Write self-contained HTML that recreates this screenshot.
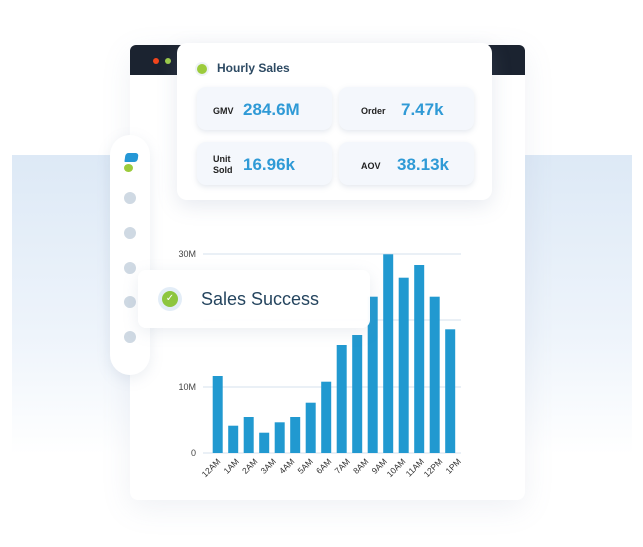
<!DOCTYPE html>
<html><head><meta charset="utf-8"><style>
html,body{margin:0;padding:0;width:643px;height:547px;background:#fff;overflow:hidden;font-family:"Liberation Sans",sans-serif;}
.abs{position:absolute}
.band{left:12px;top:155px;width:620px;height:300px;background:linear-gradient(#dde9f6,#eef4fb 60%,#fff);}
.outer{left:130px;top:45px;width:395px;height:455px;background:#fff;border-radius:8px;box-shadow:0 8px 30px rgba(120,140,170,.12);}
.bar{left:130px;top:45px;width:395px;height:30px;background:#1b2330;border-radius:6px 6px 0 0;}
.card{left:177px;top:43px;width:315px;height:157px;background:#fff;border-radius:10px;box-shadow:0 6px 20px rgba(120,140,170,.18);}
.tile{width:135px;height:43px;background:#f4f7fc;border-radius:9px;box-shadow:0 2px 6px rgba(120,140,170,.2);}
.lab{position:absolute;font-size:9px;font-weight:bold;color:#222;line-height:11px}
.val{position:absolute;font-size:17px;color:#2f9ad6;font-weight:bold}
.side{left:110px;top:135px;width:40px;height:240px;background:#fff;border-radius:20px;box-shadow:0 4px 14px rgba(120,140,170,.15);}
.dot{position:absolute;left:14px;width:12px;height:12px;border-radius:50%;background:#cfd9e3}
.succ{left:138px;top:270px;width:232px;height:58px;background:rgba(255,255,255,.97);border-radius:8px;box-shadow:0 4px 16px rgba(120,140,170,.15);}
</style></head><body>
<div class="abs band"></div>
<div class="abs outer"></div>
<div class="abs bar"></div>
<div class="abs" style="left:153px;top:58px;width:6px;height:6px;border-radius:50%;background:#f2451c"></div>
<div class="abs" style="left:165px;top:58px;width:6px;height:6px;border-radius:50%;background:#9ccb4a"></div>
<div class="abs card">
  <div class="abs" style="left:20px;top:21px;width:10px;height:10px;border-radius:50%;background:#9ccb3c;box-shadow:0 0 0 2px #eef3f6"></div>
  <div class="abs" style="left:40px;top:18px;font-size:12px;font-weight:bold;color:#2d4a63">Hourly Sales</div>
  <div class="abs tile" style="left:20px;top:44px"><div class="lab" style="left:16px;top:19px">GMV</div><div class="val" style="left:46px;top:13px">284.6M</div></div>
  <div class="abs tile" style="left:162px;top:44px"><div class="lab" style="left:22px;top:19px">Order</div><div class="val" style="left:62px;top:13px">7.47k</div></div>
  <div class="abs tile" style="left:20px;top:99px"><div class="lab" style="left:16px;top:12px">Unit<br>Sold</div><div class="val" style="left:46px;top:13px">16.96k</div></div>
  <div class="abs tile" style="left:162px;top:99px"><div class="lab" style="left:22px;top:19px">AOV</div><div class="val" style="left:58px;top:13px">38.13k</div></div>
</div>
<div class="abs side">
  <div class="abs" style="left:15px;top:18px;width:13px;height:9px;background:#2597d6;border-radius:3px 3px 3px 1px;transform:skewX(-8deg)"></div>
  <div class="abs" style="left:14px;top:29px;width:9px;height:8px;background:#9ccb3c;border-radius:50%"></div>
  <div class="dot" style="top:57px"></div><div class="dot" style="top:92px"></div><div class="dot" style="top:127px"></div><div class="dot" style="top:161px"></div><div class="dot" style="top:196px"></div>
</div>
<svg class="abs" style="left:0;top:0" width="643" height="547">
  <g stroke="#d6e2ee" stroke-width="1">
    <line x1="203" y1="254" x2="461" y2="254"/><line x1="203" y1="320" x2="461" y2="320"/>
    <line x1="203" y1="387" x2="461" y2="387"/><line x1="203" y1="453" x2="461" y2="453"/>
  </g>
  <g font-family="Liberation Sans,sans-serif" font-size="9" fill="#444" text-anchor="end">
    <text x="196" y="257">30M</text><text x="196" y="390">10M</text><text x="196" y="456">0</text>
  </g>
  <g fill="#2199d0">
    <rect x="212.7" y="376" width="10" height="77"/>
    <rect x="228.2" y="425.7" width="10" height="27.3"/>
    <rect x="243.7" y="417" width="10" height="36"/>
    <rect x="259.2" y="432.7" width="10" height="20.3"/>
    <rect x="274.7" y="422.3" width="10" height="30.7"/>
    <rect x="290.2" y="417" width="10" height="36"/>
    <rect x="305.7" y="402.7" width="10" height="50.3"/>
    <rect x="321.2" y="381.7" width="10" height="71.3"/>
    <rect x="336.7" y="345" width="10" height="108"/>
    <rect x="352.2" y="335" width="10" height="118"/>
    <rect x="367.7" y="296.7" width="10" height="156.3"/>
    <rect x="383.2" y="254.3" width="10" height="198.7"/>
    <rect x="398.7" y="277.7" width="10" height="175.3"/>
    <rect x="414.2" y="265" width="10" height="188"/>
    <rect x="429.7" y="296.7" width="10" height="156.3"/>
    <rect x="445.2" y="329.3" width="10" height="123.7"/>
  </g>
  <g font-family="Liberation Sans,sans-serif" font-size="8.5" fill="#333" text-anchor="end">
    <text transform="translate(221,462) rotate(-45)">12AM</text>
    <text transform="translate(239.5,462) rotate(-45)">1AM</text>
    <text transform="translate(258,462) rotate(-45)">2AM</text>
    <text transform="translate(276.5,462) rotate(-45)">3AM</text>
    <text transform="translate(295,462) rotate(-45)">4AM</text>
    <text transform="translate(313.5,462) rotate(-45)">5AM</text>
    <text transform="translate(332,462) rotate(-45)">6AM</text>
    <text transform="translate(350.5,462) rotate(-45)">7AM</text>
    <text transform="translate(369,462) rotate(-45)">8AM</text>
    <text transform="translate(387.5,462) rotate(-45)">9AM</text>
    <text transform="translate(406,462) rotate(-45)">10AM</text>
    <text transform="translate(424.5,462) rotate(-45)">11AM</text>
    <text transform="translate(443,462) rotate(-45)">12PM</text>
    <text transform="translate(461.5,462) rotate(-45)">1PM</text>
  </g>
</svg>
<div class="abs succ">
  <div class="abs" style="left:24px;top:21px;width:16px;height:16px;border-radius:50%;background:#8dc63f;box-shadow:0 0 0 4px #e3edf7;color:#fff;font-size:10px;text-align:center;line-height:16px">✓</div>
  <div class="abs" style="left:63px;top:19px;font-size:18px;color:#25455f">Sales Success</div>
</div>
</body></html>
